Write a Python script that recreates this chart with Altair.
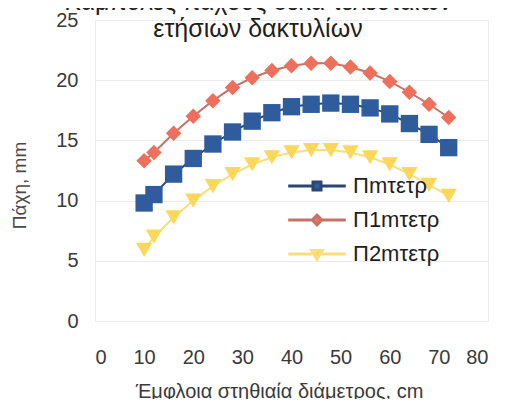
import altair as alt
import pandas as pd

# ---- data ----
x_vals = [10, 12, 16, 20, 24, 28, 32, 36, 40, 44, 48, 52, 56, 60, 64, 68, 72]
p_m = [9.8, 10.5, 12.2, 13.5, 14.7, 15.7, 16.6, 17.3, 17.8, 18.0, 18.1, 18.0, 17.7, 17.2, 16.4, 15.5, 14.4]
p1_m = [13.3, 14.0, 15.6, 17.0, 18.3, 19.4, 20.2, 20.8, 21.2, 21.4, 21.4, 21.1, 20.6, 19.9, 19.0, 18.0, 16.9]
p2_m = [5.9, 7.0, 8.6, 10.0, 11.2, 12.2, 13.0, 13.6, 14.0, 14.2, 14.2, 14.0, 13.6, 13.0, 12.2, 11.3, 10.4]
series_names = ["Πmτετρ", "Π1mτετρ", "Π2mτετρ"]
x_ticks = [0, 10, 20, 30, 40, 50, 60, 70, 80]
y_ticks = [0, 5, 10, 15, 20, 25]
title_lines = ["Καμπύλες πάχους δέκα τελευταίων", "ετήσιων δακτυλίων"]
x_title = "Έμφλοια στηθιαία διάμετρος, cm"
y_title = "Πάχη, mm"

marker_colors = ["#2F5C9C", "#EE705C", "#FDD75A"]
line_colors = ["#2A4672", "#C27468", "#F8DE7E"]
shapes = ["square", "diamond", "triangle-down"]
marker_sizes = [300, 240, 270]
# legend symbols: a line with the series marker in its middle
legend_paths = [
    "M-7.2,0H-1M1,0H7.2M-1,-1H1V1H-1Z",
    "M-7.2,0H-1.2M1.2,0H7.2M-1.2,0L0,-1.2L1.2,0L0,1.2Z",
    "M-7.2,0H-1.2M1.2,0H7.2M-1.3,-0.9L1.3,-0.9L0,1.3Z",
]

FONT = "Liberation Sans"

df = pd.DataFrame({
    "x": x_vals * 3,
    "y": p_m + p1_m + p2_m,
    "s": [n for n in series_names for _ in x_vals],
})

x_enc = alt.X("x:Q", scale=alt.Scale(domain=[0, 80]),
              axis=alt.Axis(values=x_ticks, title=x_title, grid=False, domain=False, ticks=False,
                            labelFontSize=20, labelFont=FONT, labelColor="#3a3a3a", labelPadding=26,
                            titleFontSize=20, titleFont=FONT, titleFontWeight="normal", titleColor="#3a3a3a",
                            titleX=184, titleY=76, titleBaseline="alphabetic", titleAlign="center"))
y_enc = alt.Y("y:Q", scale=alt.Scale(domain=[0, 25]),
              axis=alt.Axis(values=y_ticks, title=y_title, grid=True, gridColor="#ececec", domain=False, ticks=False,
                            labelFontSize=20, labelFont=FONT, labelColor="#3a3a3a", labelPadding=17,
                            titleFontSize=19, titleFont=FONT, titleFontWeight="normal", titleColor="#4a4a4a",
                            titleX=-70, titleY=165, titleBaseline="alphabetic", titleAlign="center", titleAngle=270))

leg = alt.Legend(orient="none", legendX=211, legendY=155, title=None,
                 symbolSize=64, symbolStrokeWidth=3, symbolOpacity=1,
                 labelFontSize=22, labelFont=FONT, labelColor="#1e1e1e", labelOffset=25,
                 rowPadding=12)

stroke_scale = alt.Scale(domain=series_names, range=line_colors)
fill_scale = alt.Scale(domain=series_names, range=marker_colors)
shape_scale = alt.Scale(domain=series_names, range=legend_paths)

base = alt.Chart(df)

lines = base.mark_line(strokeWidth=2).encode(
    x=x_enc, y=y_enc,
    stroke=alt.Stroke("s:N", scale=stroke_scale, legend=leg),
)

point_layers = [
    base.transform_filter(alt.datum.s == name).mark_point(
        filled=True, opacity=1, shape=shp, size=sz, color=col
    ).encode(x=x_enc, y=y_enc)
    for name, shp, sz, col in zip(series_names, shapes, marker_sizes, marker_colors)
]

legend_layer = base.transform_filter("false").mark_point(filled=True, opacity=1).encode(
    x=x_enc, y=y_enc,
    fill=alt.Fill("s:N", scale=fill_scale, legend=leg),
    stroke=alt.Stroke("s:N", scale=stroke_scale, legend=leg),
    shape=alt.Shape("s:N", scale=shape_scale, legend=leg),
)

one = alt.Data(values=[{"k": 1}])
t1 = alt.Chart(one).mark_text(text=title_lines[0], font=FONT, fontSize=25, color="#1e1e1e",
                              align="center", baseline="alphabetic").encode(x=alt.value(163), y=alt.value(-10))
t2 = alt.Chart(one).mark_text(text=title_lines[1], font=FONT, fontSize=25, color="#1e1e1e",
                              align="center", baseline="alphabetic").encode(x=alt.value(163), y=alt.value(17))

chart = alt.layer(lines, *point_layers, legend_layer, t1, t2).properties(
    width=393, height=301,
    padding={"left": 87, "top": 12, "right": 9, "bottom": 78},
    autosize=alt.AutoSizeParams(type="none"),
    background="white",
).configure_view(stroke="#ebebeb")

chart.save("out.html", embed_options={"renderer": "svg", "actions": False})
